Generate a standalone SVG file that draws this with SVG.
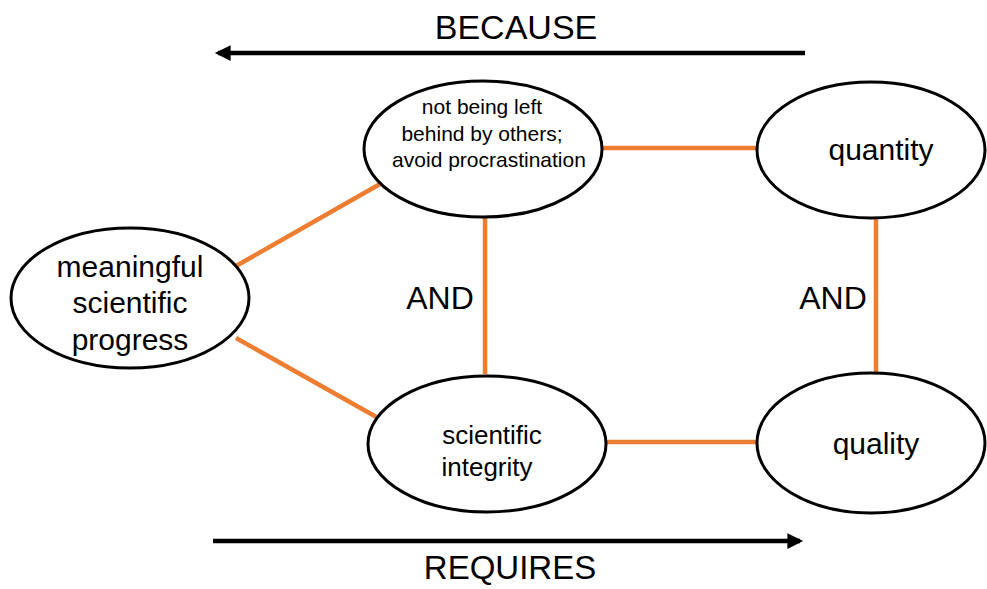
<svg xmlns="http://www.w3.org/2000/svg" width="987" height="589" viewBox="0 0 987 589">
<defs>
<style>
.node{fill:#fff;stroke:#000;stroke-width:3}
.lnk{stroke:#ED7D31;stroke-width:4.5;fill:none}
.arr{stroke:#000;stroke-width:4.5;fill:none}
text{font-family:"Liberation Sans",Arial,sans-serif;fill:#000;text-anchor:middle}
</style>
<marker id="ah" viewBox="0 0 10 10" refX="8" refY="5" markerWidth="4" markerHeight="3.5" orient="auto" markerUnits="strokeWidth">
<path d="M0,0 L10,5 L0,10 z" fill="#000"/>
</marker>
</defs>
<g id="connectors">
<line class="lnk" x1="600" y1="148" x2="760" y2="148"/>
<line class="lnk" x1="236" y1="266" x2="380" y2="184"/>
<line class="lnk" x1="236" y1="338" x2="380" y2="419"/>
<line class="lnk" x1="485" y1="216" x2="485" y2="374"/>
<line class="lnk" x1="876" y1="216" x2="876" y2="374"/>
<line class="lnk" x1="604" y1="442" x2="760" y2="442"/>
<line class="arr" x1="805" y1="53" x2="218" y2="53" marker-end="url(#ah)"/>
<line class="arr" x1="213" y1="541" x2="800" y2="541" marker-end="url(#ah)"/>
<text x="440" y="309" font-size="32">AND</text>
<text x="833" y="309" font-size="32">AND</text>
<text x="516" y="39" font-size="34">BECAUSE</text>
<text x="510" y="579" font-size="33">REQUIRES</text>
</g>
<g id="n-left">
<ellipse class="node" cx="483" cy="149" rx="119" ry="68"/>
<text x="482" y="114" font-size="21">not being left</text>
<text x="482" y="141" font-size="21">behind by others;</text>
<text x="489" y="167" font-size="21">avoid procrastination</text>
</g>
<g id="n-quantity">
<ellipse class="node" cx="871" cy="150" rx="114" ry="68"/>
<text x="881" y="160" font-size="30">quantity</text>
</g>
<g id="n-progress">
<ellipse class="node" cx="130" cy="298" rx="119" ry="70"/>
<text x="130" y="277" font-size="30">meaningful</text>
<text x="130" y="313" font-size="30">scientific</text>
<text x="130" y="350" font-size="30">progress</text>
</g>
<g id="n-integrity">
<ellipse class="node" cx="487" cy="444" rx="119" ry="68"/>
<text x="492" y="444" font-size="26">scientific</text>
<text x="487" y="476" font-size="26">integrity</text>
</g>
<g id="n-quality">
<ellipse class="node" cx="871" cy="443" rx="114" ry="70"/>
<text x="876" y="454" font-size="30">quality</text>
</g>
</svg>
